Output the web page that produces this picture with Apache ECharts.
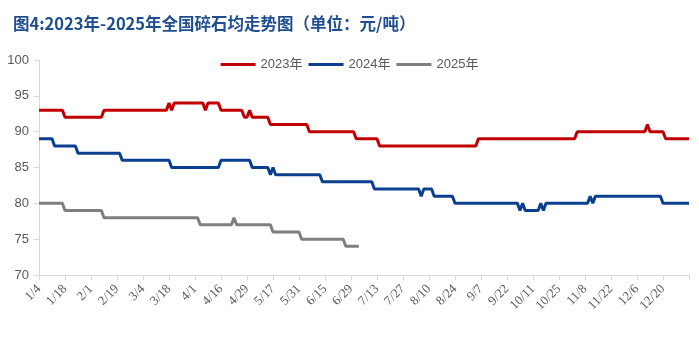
<!DOCTYPE html>
<html>
<head>
<meta charset="utf-8">
<script src="https://cdn.jsdelivr.net/npm/echarts@6/dist/echarts.min.js"></script>
<style>
html,body{margin:0;padding:0;background:#fff;}
#c{width:699px;height:340px;}
</style>
</head>
<body>
<div id="c"></div>
<script>
const titleText = '图4:2023年-2025年全国碎石均走势图（单位：元/吨）';
const seriesNames = ['2023年', '2024年', '2025年'];
const tickLabels = ['1/4','1/18','2/1','2/19','3/4','3/18','4/1','4/16','4/29','5/17','5/31','6/15','6/29','7/13','7/27','8/10','8/24','9/7','9/22','10/11','10/25','11/8','11/22','12/6','12/20'];

const y2023 = [
93,93,93,93,93,93,93,93,93,93,
92,92,92,92,92,92,92,92,92,92,
92,92,92,92,92,93,93,93,93,93,
93,93,93,93,93,93,93,93,93,93,
93,93,93,93,93,93,93,93,93,93,
94,93,94,94,94,94,94,94,94,94,
94,94,94,94,93,94,94,94,94,94,
93,93,93,93,93,93,93,93,93,92,
92,93,92,92,92,92,92,92,92,91,
91,91,91,91,91,91,91,91,91,91,
91,91,91,91,90,90,90,90,90,90,
90,90,90,90,90,90,90,90,90,90,
90,90,89,89,89,89,89,89,89,89,
89,88,88,88,88,88,88,88,88,88,
88,88,88,88,88,88,88,88,88,88,
88,88,88,88,88,88,88,88,88,88,
88,88,88,88,88,88,88,88,88,89,
89,89,89,89,89,89,89,89,89,89,
89,89,89,89,89,89,89,89,89,89,
89,89,89,89,89,89,89,89,89,89,
89,89,89,89,89,89,89,90,90,90,
90,90,90,90,90,90,90,90,90,90,
90,90,90,90,90,90,90,90,90,90,
90,90,90,90,91,90,90,90,90,90,
90,89,89,89,89,89,89,89,89,89,
89];

const y2024 = [
89,89,89,89,89,89,88,88,88,88,
88,88,88,88,88,87,87,87,87,87,
87,87,87,87,87,87,87,87,87,87,
87,87,86,86,86,86,86,86,86,86,
86,86,86,86,86,86,86,86,86,86,
86,85,85,85,85,85,85,85,85,85,
85,85,85,85,85,85,85,85,85,85,
86,86,86,86,86,86,86,86,86,86,
86,86,85,85,85,85,85,85,85,84,
85,84,84,84,84,84,84,84,84,84,
84,84,84,84,84,84,84,84,84,83,
83,83,83,83,83,83,83,83,83,83,
83,83,83,83,83,83,83,83,83,82,
82,82,82,82,82,82,82,82,82,82,
82,82,82,82,82,82,82,81,82,82,
82,82,81,81,81,81,81,81,81,81,
80,80,80,80,80,80,80,80,80,80,
80,80,80,80,80,80,80,80,80,80,
80,80,80,80,80,79,80,79,79,79,
79,79,79,80,79,80,80,80,80,80,
80,80,80,80,80,80,80,80,80,80,
80,80,81,80,81,81,81,81,81,81,
81,81,81,81,81,81,81,81,81,81,
81,81,81,81,81,81,81,81,81,81,
80,80,80,80,80,80,80,80,80,80,
80];

const y2025 = [
80,80,80,80,80,80,80,80,80,80,
79,79,79,79,79,79,79,79,79,79,
79,79,79,79,79,78,78,78,78,78,
78,78,78,78,78,78,78,78,78,78,
78,78,78,78,78,78,78,78,78,78,
78,78,78,78,78,78,78,78,78,78,
78,78,77,77,77,77,77,77,77,77,
77,77,77,77,77,78,77,77,77,77,
77,77,77,77,77,77,77,77,77,77,
76,76,76,76,76,76,76,76,76,76,
76,75,75,75,75,75,75,75,75,75,
75,75,75,75,75,75,75,75,74,74,
74,74,74,74];

const colors = ['#C00000', '#0A3F8F', '#7F7F7F'];
const categories = y2023.map((_, i) => i);

const chart = echarts.init(document.getElementById('c'), null, {renderer: 'canvas'});
const mk = (name, data, color) => ({
  name: name, type: 'line', data: data, symbol: 'none', smooth: false,
  lineStyle: {width: 3, color: color}, itemStyle: {color: color}
});
chart.setOption({
  animation: false,
  backgroundColor: '#ffffff',
  title: {
    text: titleText, left: 8, top: 10,
    textStyle: {color: '#1F4E8F', fontSize: 16.5, fontWeight: 'bold', fontFamily: 'Noto Sans CJK SC'}
  },
  legend: {
    data: seriesNames, left: 'center', top: 53,
    icon: 'rect', itemWidth: 35, itemHeight: 3, itemGap: 6,
    textStyle: {color: '#595959', fontSize: 13, fontFamily: 'Liberation Sans, Noto Sans CJK SC'}
  },
  grid: {left: 39, right: 10, top: 60, bottom: 65, containLabel: false},
  xAxis: {
    type: 'category', data: categories, boundaryGap: false,
    axisLine: {lineStyle: {color: '#D9D9D9', width: 1}},
    axisTick: {show: true, interval: 9, length: 5, lineStyle: {color: '#D9D9D9'}},
    axisLabel: {
      interval: 9, rotate: 45, margin: 12, color: '#595959', fontSize: 13,
      fontFamily: 'Liberation Serif',
      formatter: (v, i) => (i % 10 === 0 && tickLabels[i / 10]) ? tickLabels[i / 10] : ''
    },
    splitLine: {show: false}
  },
  yAxis: {
    type: 'value', min: 70, max: 100, interval: 5,
    axisLine: {show: true, lineStyle: {color: '#D9D9D9', width: 1}},
    axisTick: {show: true, length: 5, lineStyle: {color: '#D9D9D9'}},
    axisLabel: {color: '#595959', fontSize: 13, margin: 10, fontFamily: 'Liberation Sans'},
    splitLine: {show: false}
  },
  series: [
    mk(seriesNames[0], y2023, colors[0]),
    mk(seriesNames[1], y2024, colors[1]),
    mk(seriesNames[2], y2025, colors[2])
  ]
});
</script>
</body>
</html>
